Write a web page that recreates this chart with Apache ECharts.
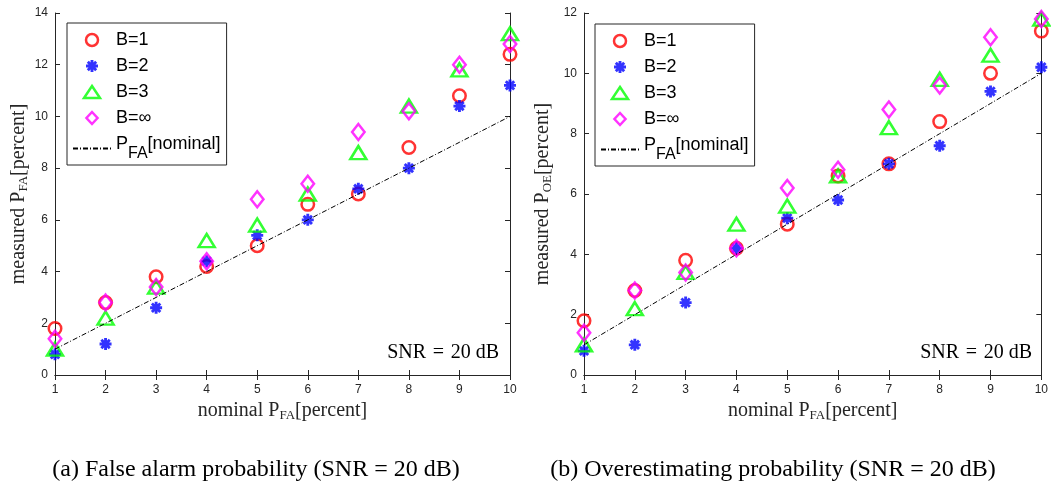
<!DOCTYPE html>
<html>
<head>
<meta charset="utf-8">
<script src="https://cdn.jsdelivr.net/npm/echarts@6/dist/echarts.min.js"></script>
<style>html,body{margin:0;padding:0;background:#fff}#c{width:1051px;height:483px}</style>
</head>
<body>
<div id="c"></div>
<script>
// ---- data ----
const nominal = [1, 2, 3, 4, 5, 6, 7, 8, 9, 10];
const faB1   = [1.8, 2.8, 3.8, 4.2, 5.0, 6.6, 7.0, 8.8, 10.8, 12.4];
const faB2   = [0.8, 1.2, 2.6, 4.4, 5.4, 6.0, 7.2, 8.0, 10.4, 11.2];
const faB3   = [1.0, 2.2, 3.4, 5.2, 5.8, 7.0, 8.6, 10.4, 11.8, 13.2];
const faBinf = [1.4, 2.8, 3.4, 4.4, 6.8, 7.4, 9.4, 10.2, 12.0, 12.8];
const oeB1   = [1.8, 2.8, 3.8, 4.2, 5.0, 6.6, 7.0, 8.4, 10.0, 11.4];
const oeB2   = [0.8, 1.0, 2.4, 4.2, 5.2, 5.8, 7.0, 7.6, 9.4, 10.2];
const oeB3   = [1.0, 2.2, 3.4, 5.0, 5.6, 6.6, 8.2, 9.8, 10.6, 11.8];
const oeBinf = [1.4, 2.8, 3.4, 4.2, 6.2, 6.8, 8.8, 9.6, 11.2, 11.8];
const seriesNames = ['B=1', 'B=2', 'B=3', 'B=\u221E', 'PFA[nominal]'];
const xTicks = { min: 1, max: 10, interval: 1 };
const yTicksFA = { min: 0, max: 14, interval: 2 };
const yTicksOE = { min: 0, max: 12, interval: 2 };
const captions = ['(a) False alarm probability (SNR = 20 dB)', '(b) Overestimating probability (SNR = 20 dB)'];
const snrText = 'SNR\u2004=\u200420 dB';

// ---- styles ----
const AX = '#262626';
const SERIF = '"Liberation Serif", "Times New Roman", serif';
const SANS = '"Liberation Sans", Arial, sans-serif';
const RED = '#ff0000', BLUE = '#0000ff', GREEN = '#00ff00', MAGENTA = '#ff00ff';
const CLEAR = 'rgba(0,0,0,0)';
const asterisk = 'path://M0 38L100 38L100 62L0 62Z M38 0L62 0L62 100L38 100Z M23.49 6.51L93.49 76.51L76.51 93.49L6.51 23.49Z M93.49 23.49L23.49 93.49L6.51 76.51L76.51 6.51Z';
const triIcon = 'path://M8 0L16 12L0 12Z';
const diaIcon = 'path://M6 0L12 6.5L6 13L0 6.5Z';

const pair = (xs, ys) => xs.map((x, i) => [x, ys[i]]);

const nameRich = {
  m: { fontFamily: SERIF, fontSize: 20, color: AX, lineHeight: 21, verticalAlign: 'top' },
  s: { fontFamily: SERIF, fontSize: 13, color: AX, lineHeight: 13, verticalAlign: 'bottom' }
};

function bottomX(grid) {
  return {
    type: 'value', gridIndex: grid, position: 'bottom', min: xTicks.min, max: xTicks.max, interval: xTicks.interval,
    axisLine: { show: true, lineStyle: { color: AX, width: 1 } },
    axisTick: { show: true, inside: true, length: 5, lineStyle: { color: AX } },
    axisLabel: { color: AX, fontFamily: SANS, fontSize: 12, margin: 9 },
    splitLine: { show: false },
    name: '{m|nominal P}{s|FA}{m|[percent]}', nameLocation: 'middle', nameGap: 26,
    nameTextStyle: { rich: nameRich }
  };
}
function topX(grid) {
  return {
    type: 'value', gridIndex: grid, position: 'top', min: xTicks.min, max: xTicks.max, interval: xTicks.interval,
    axisLine: { show: true, lineStyle: { color: AX, width: 1 } },
    axisTick: { show: true, inside: true, length: 5, lineStyle: { color: AX } },
    axisLabel: { show: false }, splitLine: { show: false }
  };
}
function leftY(grid, t, sub, gap) {
  return {
    type: 'value', gridIndex: grid, position: 'left', min: t.min, max: t.max, interval: t.interval,
    axisLine: { show: true, lineStyle: { color: AX, width: 1 } },
    axisTick: { show: true, inside: true, length: 5, lineStyle: { color: AX } },
    axisLabel: { color: AX, fontFamily: SANS, fontSize: 12, margin: 7 },
    splitLine: { show: false },
    name: '{m|measured P}{s|' + sub + '}{m|[percent]}', nameLocation: 'middle', nameGap: gap, nameRotate: 90,
    nameTextStyle: { rich: nameRich }
  };
}
function rightY(grid, t) {
  return {
    type: 'value', gridIndex: grid, position: 'right', min: t.min, max: t.max, interval: t.interval,
    axisLine: { show: true, lineStyle: { color: AX, width: 1 } },
    axisTick: { show: true, inside: true, length: 5, lineStyle: { color: AX } },
    axisLabel: { show: false }, splitLine: { show: false }
  };
}

function seriesFor(grid, b1, b2, b3, binf) {
  const xi = grid * 2, yi = grid * 2;
  return [
    { name: seriesNames[0], type: 'scatter', xAxisIndex: xi, yAxisIndex: yi, data: pair(nominal, b1),
      symbol: 'circle', symbolSize: 12.5, z: 3,
      itemStyle: { color: CLEAR, borderColor: RED, borderWidth: 2.5 } },
    { name: seriesNames[1], type: 'scatter', xAxisIndex: xi, yAxisIndex: yi, data: pair(nominal, b2),
      symbol: asterisk, symbolSize: 12, z: 4,
      itemStyle: { color: BLUE } },
    { name: seriesNames[2], type: 'scatter', xAxisIndex: xi, yAxisIndex: yi, data: pair(nominal, b3),
      symbol: 'triangle', symbolSize: [16, 13], z: 5,
      itemStyle: { color: CLEAR, borderColor: GREEN, borderWidth: 2.5 } },
    { name: seriesNames[3], type: 'scatter', xAxisIndex: xi, yAxisIndex: yi, data: pair(nominal, binf),
      symbol: 'diamond', symbolSize: [12.5, 16], z: 6,
      itemStyle: { color: CLEAR, borderColor: MAGENTA, borderWidth: 2.5 } },
    { name: seriesNames[4], type: 'line', xAxisIndex: xi, yAxisIndex: yi, data: pair(nominal, nominal),
      symbol: 'none', z: 7,
      lineStyle: { color: '#000', width: 1, type: [5, 2, 1, 2] } }
  ];
}

function legendAt(left, top) {
  return {
    orient: 'vertical', left: left, top: top,
    data: [
      { name: seriesNames[0], icon: 'circle', itemStyle: { color: CLEAR, borderColor: RED, borderWidth: 2.5 } },
      { name: seriesNames[1], icon: asterisk, itemStyle: { color: BLUE, borderWidth: 0 } },
      { name: seriesNames[2], icon: triIcon, itemStyle: { color: CLEAR, borderColor: GREEN, borderWidth: 2.5 } },
      { name: seriesNames[3], icon: diaIcon, itemStyle: { color: CLEAR, borderColor: MAGENTA, borderWidth: 2.5 } },
      { name: seriesNames[4], itemStyle: { opacity: 0 } }
    ],
    backgroundColor: '#fff', borderColor: AX, borderWidth: 1, padding: [8, 6, 3, 5],
    itemWidth: 38, itemHeight: 12, itemGap: 8, symbolKeepAspect: true, selectedMode: false,
    formatter: function (n) { return n === 'PFA[nominal]' ? '{m|P}{s|FA}{m|[nominal]}' : n; },
    textStyle: {
      fontFamily: SANS, fontSize: 18, color: '#000', lineHeight: 18,
      rich: {
        m: { fontFamily: SANS, fontSize: 18, color: '#000', lineHeight: 27, verticalAlign: 'top' },
        s: { fontFamily: SANS, fontSize: 16, color: '#000', lineHeight: 16, verticalAlign: 'bottom' }
      }
    }
  };
}

const chart = echarts.init(document.getElementById('c'), null, { renderer: 'canvas' });
chart.setOption({
  animation: false,
  backgroundColor: '#fff',
  grid: [
    { left: 55, top: 13, width: 455, height: 362 },
    { left: 584, top: 13, width: 458, height: 362 }
  ],
  xAxis: [bottomX(0), topX(0), bottomX(1), topX(1)],
  yAxis: [leftY(0, yTicksFA, 'FA', 25), rightY(0, yTicksFA), leftY(1, yTicksOE, 'OE', 30), rightY(1, yTicksOE)],
  legend: [legendAt(67, 23), legendAt(595, 24)],
  series: [].concat(seriesFor(0, faB1, faB2, faB3, faBinf), seriesFor(1, oeB1, oeB2, oeB3, oeBinf)),
  graphic: [
    { type: 'text', x: 499, y: 353, style: { text: snrText, font: '20px ' + SERIF, fill: '#000', align: 'right', verticalAlign: 'middle' } },
    { type: 'text', x: 1032, y: 353, style: { text: snrText, font: '20px ' + SERIF, fill: '#000', align: 'right', verticalAlign: 'middle' } },
    { type: 'text', x: 256, y: 470, style: { text: captions[0], font: '24px ' + SERIF, fill: '#000', align: 'center', verticalAlign: 'middle' } },
    { type: 'text', x: 773, y: 470, style: { text: captions[1], font: '24px ' + SERIF, fill: '#000', align: 'center', verticalAlign: 'middle' } }
  ]
});
</script>
</body>
</html>
